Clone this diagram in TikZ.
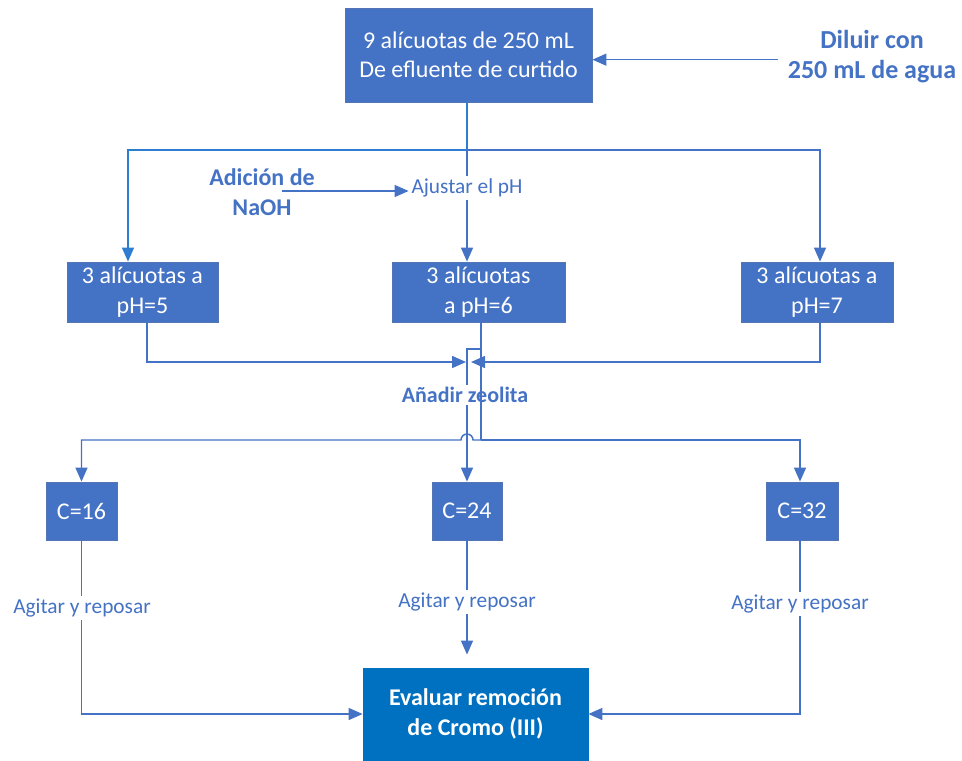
\documentclass[tikz,border=0pt]{standalone}
\usepackage{fontspec}
\setmainfont{Carlito}
\usetikzlibrary{arrows.meta,calc}
\definecolor{boxblue}{HTML}{4472C4}
\definecolor{darkbox}{HTML}{0070C0}
\definecolor{lineblue}{HTML}{4472C4}
\definecolor{brightline}{HTML}{2E7DD1}
\begin{document}
\begin{tikzpicture}[x=0.75pt,y=-0.75pt,
  box/.style={fill=boxblue, draw=boxblue!75!gray, line width=0.6pt, text=white, align=center, inner sep=0pt, font=\fontsize{18}{22}\selectfont},
  lbl/.style={text=lineblue, align=center, fill=white, inner sep=2pt, font=\fontsize{16}{20}\selectfont},
  lblb/.style={text=lineblue, align=center, inner sep=1pt, font=\bfseries\fontsize{18}{22.5}\selectfont},
  conn/.style={draw=lineblue, line width=1.1pt},
  arr/.style={conn, -{Triangle[length=10.5pt,width=9pt]}}]
\useasboundingbox (0,0) rectangle (962,760);

% boxes
\node[box, minimum width=185.25pt, minimum height=70.5pt] (top) at (468.5,55) {9 alícuotas de 250 mL\\De efluente de curtido};
\node[box, minimum width=113.25pt, minimum height=45pt] (ph5) at (142.5,292) {3 alícuotas a\\pH=5};
\node[box, minimum width=129.75pt, minimum height=45pt] (ph6) at (478.5,292) {3 alícuotas\\a pH=6};
\node[box, minimum width=114pt, minimum height=45pt] (ph7) at (817,292) {3 alícuotas a\\pH=7};
\node[box, minimum width=53.25pt, minimum height=43.5pt] (c16) at (81.5,511) {C=16};
\node[box, minimum width=52.5pt, minimum height=43.5pt] (c24) at (467,511) {C=24};
\node[box, minimum width=54pt, minimum height=43.5pt] (c32) at (802,511) {C=32};
\node[box, fill=darkbox, draw=darkbox, font=\bfseries\fontsize{18}{22.5}\selectfont, minimum width=168.75pt, minimum height=69pt] (bot) at (475.5,714) {Evaluar remoción\\de Cromo (III)};

% dilution
\node[lblb, font=\bfseries\fontsize{19.5}{22.5}\selectfont] (dil) at (872,57) {Diluir con\\250 mL de agua};
\draw[arr] ([xshift=-6pt,yshift=-2pt]dil.west) -- ([yshift=-2pt]dil.west -| top.east);

% split to pH boxes
\coordinate (j1) at (467,150);
\draw[conn, draw=brightline] (top.south -| j1) -- (j1);
\draw[arr, draw=brightline] (j1) -| ($(ph5.north)+(-14.5,0)$);
\draw[arr] (j1) -| ($(ph7.north)+(3,0)$);
\draw[arr] (j1) -- (j1 |- ph6.north);
\node[lbl] (aj) at (467,188) {Ajustar el pH};
\node[lblb] (naoh) at (262,192) {Adición de\\NaOH};
\draw[arr] ($(naoh.center)+(20,-1)$) coordinate (ns) -- (ns -| aj.west);

% merge
\coordinate (m1) at (466,362);
\coordinate (m2) at (471,362);
\draw[arr] ($(ph5.south)+(4.5,0)$) |- (m1);
\draw[arr] ($(ph7.south)+(3,0)$) |- (m2);

% zeolite line to C=24
\coordinate (b) at (481,349);
\draw[arr] (b) -| (c24.north);
\node[lblb, fill=white, inner sep=2pt, font=\bfseries\fontsize{16.5}{20}\selectfont] (zeo) at (465,395) {Añadir zeolita};

% pH6 down to split of C boxes
\coordinate (j2) at (481,440);
\draw[conn] ($(ph6.south)+(2.5,0)$) -- (j2);
\draw[arr] (j2) -- ++(-8,0) arc[start angle=0, end angle=-180, radius=6] -| (c16.north);
\draw[arr] (j2) -| ($(c32.north)+(-2,0)$);

% C boxes to evaluation
\draw[arr] (c16.south) |- (bot.west);
\draw[arr] (c24.south) -- ($(c24.south |- bot.north)+(0,-13)$);
\draw[arr] ($(c32.south)+(-2,0)$) |- (bot.east);
\node[lbl] (ag1) at (82,608) {Agitar y reposar};
\node[lbl] (ag2) at (467,602) {Agitar y reposar};
\node[lbl] (ag3) at (800,604) {Agitar y reposar};
\end{tikzpicture}
\end{document}
